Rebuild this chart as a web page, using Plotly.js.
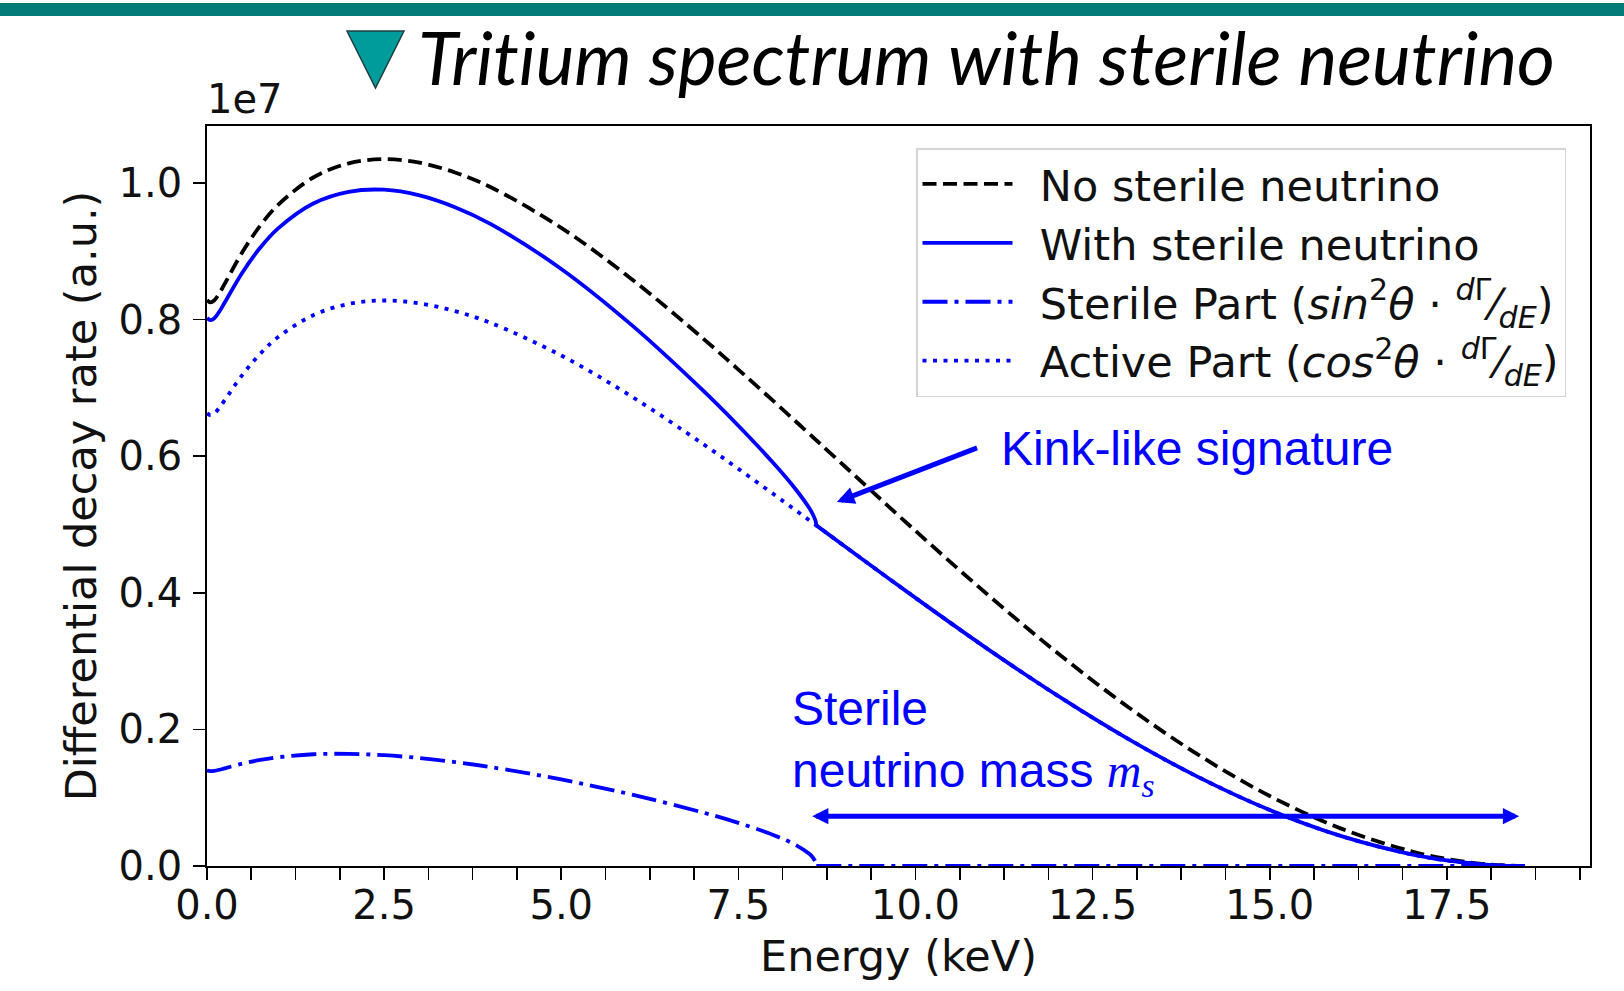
<!DOCTYPE html>
<html>
<head>
<meta charset="utf-8">
<script src="https://cdn.plot.ly/plotly-3.0.1.min.js"></script>
<style>html,body{margin:0;padding:0;background:#fff;}#chart{width:1624px;height:991px;}</style>
</head>
<body>
<div id="chart"></div>
<script>
// Energy grid (keV)
const energy = [0, 0.05, 0.1, 0.175, 0.25, 0.5, 0.75, 1, 1.5, 2, 2.5, 3, 3.5, 4, 5, 6, 7, 7.5, 8, 8.3, 8.5, 8.55, 8.59, 8.6, 9, 10, 11, 12, 13, 14, 15, 16, 17, 17.5, 18, 18.3, 18.6];
// Differential decay rate, in units of 1e7
const noSterile = [0.8284, 0.8253, 0.8279, 0.8387, 0.8525, 0.8990, 0.9374, 0.9676, 1.0081, 1.0288, 1.0350, 1.0297, 1.0155, 0.9941, 0.9344, 0.8587, 0.7725, 0.7269, 0.6802, 0.6519, 0.6329, 0.6281, 0.6243, 0.6234, 0.5853, 0.4907, 0.3989, 0.3123, 0.2328, 0.1623, 0.1025, 0.0551, 0.0214, 0.0103, 0.0031, 0.0008, 0];
const withSterile = [0.8024, 0.7992, 0.8016, 0.8119, 0.8250, 0.8691, 0.9052, 0.9333, 0.9701, 0.9872, 0.9902, 0.9819, 0.9646, 0.9402, 0.8742, 0.7915, 0.6963, 0.6446, 0.5893, 0.5527, 0.5241, 0.5150, 0.5050, 0.4987, 0.4682, 0.3926, 0.3191, 0.2498, 0.1862, 0.1298, 0.0820, 0.0441, 0.0171, 0.0082, 0.0025, 0.0006, 0];
const sterilePart = [0.1397, 0.1390, 0.1393, 0.1409, 0.1430, 0.1499, 0.1553, 0.1592, 0.1636, 0.1642, 0.1622, 0.1581, 0.1522, 0.1449, 0.1267, 0.1045, 0.0783, 0.0631, 0.0451, 0.0312, 0.0178, 0.0125, 0.0056, 0, 0, 0, 0, 0, 0, 0, 0, 0, 0, 0, 0, 0, 0];
const activePart = [0.6627, 0.6602, 0.6623, 0.6710, 0.6820, 0.7192, 0.7499, 0.7741, 0.8065, 0.8230, 0.8280, 0.8238, 0.8124, 0.7953, 0.7475, 0.6870, 0.6180, 0.5815, 0.5442, 0.5215, 0.5063, 0.5025, 0.4994, 0.4987, 0.4682, 0.3926, 0.3191, 0.2498, 0.1862, 0.1298, 0.0820, 0.0441, 0.0171, 0.0082, 0.0025, 0.0006, 0];
const kinkEnergy = 8.6;
// Tick labels
const xTickVals = [0, 2.5, 5, 7.5, 10, 12.5, 15, 17.5];
const xTickText = ['0.0', '2.5', '5.0', '7.5', '10.0', '12.5', '15.0', '17.5'];
const yTickVals = [0, 0.2, 0.4, 0.6, 0.8, 1.0];
const yTickText = ['0.0', '0.2', '0.4', '0.6', '0.8', '1.0'];
const GAP = '\u00a0\u2009';
const seriesNames = [
  GAP + 'No sterile neutrino',
  GAP + 'With sterile neutrino',
  GAP + 'Sterile Part (<i>sin</i><sup>2</sup><i>θ</i> · <sup><i>d</i>Γ</sup>⁄<sub><i>dE</i></sub>)',
  GAP + 'Active Part (<i>cos</i><sup>2</sup><i>θ</i> · <sup><i>d</i>Γ</sup>⁄<sub><i>dE</i></sub>)'
];
// annotation anchor points (data coordinates)
const kinkArrow = {head: [8.89, 0.533], tail: [10.89, 0.613]};
const kinkLabel = [11.18, 0.612];
const massArrow = {from: [8.52, 0.073], to: [18.52, 0.073]};
const massLabel = [8.23, 0.180];

const k = energy.indexOf(kinkEnergy);
const BLUE = '#0000ff';
const LW = 3.8;
const FONT = 'DejaVu Sans';

const traces = [
  {x: energy, y: activePart, mode: 'lines', name: seriesNames[3], legendrank: 4,
   line: {color: BLUE, width: LW, dash: '4px,6.5px', shape: 'spline'}},
  {x: energy, y: noSterile, mode: 'lines', name: seriesNames[0], legendrank: 1,
   line: {color: 'black', width: LW, dash: '14px,6.5px', shape: 'spline'}},
  {x: energy.slice(0, k + 1), y: withSterile.slice(0, k + 1), mode: 'lines', name: seriesNames[1], legendrank: 2,
   legendgroup: 'with', line: {color: BLUE, width: LW, shape: 'spline'}},
  {x: energy.slice(k), y: withSterile.slice(k), mode: 'lines', name: seriesNames[1], showlegend: false,
   legendgroup: 'with', line: {color: BLUE, width: LW, shape: 'spline'}},
  {x: energy.slice(0, k + 1), y: sterilePart.slice(0, k + 1), mode: 'lines', name: seriesNames[2], legendrank: 3,
   legendgroup: 'st', line: {color: BLUE, width: LW, dash: '25px,7px,4px,7px', shape: 'spline'}},
  {x: energy.slice(k), y: sterilePart.slice(k), mode: 'lines', name: seriesNames[2], showlegend: false,
   legendgroup: 'st', line: {color: BLUE, width: LW, dash: '25px,7px,4px,7px'}}
];

const L = 207, R = 34, T = 126, B = 125, W = 1624, H = 991;
const pw = W - L - R, ph = H - T - B;
const px = v => (v - L) / pw;          // pixel x -> paper
const py = v => (H - B - v) / ph;      // pixel y -> paper

const axisCommon = {
  showgrid: false, zeroline: false, showline: true, mirror: true,
  linecolor: 'black', linewidth: 1.8,
  ticks: 'outside', ticklen: 12, tickwidth: 1.6, tickcolor: 'black',
  tickfont: {family: FONT, size: 40, color: '#111'},
  fixedrange: true
};

const layout = {
  width: W, height: H,
  margin: {l: L, r: R, t: T, b: B, pad: 0},
  paper_bgcolor: 'white', plot_bgcolor: 'white',
  showlegend: true,
  xaxis: Object.assign({}, axisCommon, {
    range: [0, 19.52], tickmode: 'array', tickvals: xTickVals, ticktext: xTickText,
    ticklabelstandoff: -9,
    minor: {dtick: 0.625, tick0: 0, ticks: 'outside', ticklen: 12, tickwidth: 1.6, tickcolor: 'black', showgrid: false},
    title: {text: 'Energy (keV)', font: {family: FONT, size: 43, color: '#111'}, standoff: 14}
  }),
  yaxis: Object.assign({}, axisCommon, {
    range: [0, 1.0835], tickmode: 'array', tickvals: yTickVals, ticktext: yTickText,
    ticklabelstandoff: 3,
    title: {text: 'Differential decay rate (a.u.)', font: {family: FONT, size: 43, color: '#111'}, standoff: 8}
  }),
  legend: {
    x: px(1566), y: py(148), xanchor: 'right', yanchor: 'top',
    bgcolor: 'white', bordercolor: '#d4d4d4', borderwidth: 1.5,
    font: {family: FONT, size: 43, color: '#111'},
    itemwidth: 90, tracegroupgap: 0
  },
  shapes: [
    {type: 'rect', xref: 'paper', yref: 'paper', x0: px(0), x1: px(W), y0: py(3), y1: py(16),
     fillcolor: '#047b78', line: {width: 0}, layer: 'above'},
    {type: 'path', xref: 'paper', yref: 'paper',
     path: `M ${px(347)} ${py(31)} L ${px(404)} ${py(31)} L ${px(375.5)} ${py(88)} Z`,
     fillcolor: '#009b9b', line: {color: '#1f4040', width: 1.5}}
  ],
  annotations: [
    {xref: 'paper', yref: 'paper', x: px(416), y: py(57), xanchor: 'left', yanchor: 'middle', showarrow: false,
     text: '<i>Trit\u200Cium spectrum with sterile neutrino</i>', font: {family: 'Lato', size: 73, color: 'black'}},
    {xref: 'paper', yref: 'paper', x: px(205), y: py(99), xanchor: 'left', yanchor: 'middle', showarrow: false,
     text: '1e7', font: {family: FONT, size: 40, color: '#111'}},
    {xref: 'x', yref: 'y', x: kinkLabel[0], y: kinkLabel[1], xanchor: 'left', yanchor: 'middle', showarrow: false,
     text: 'Kink-like signature', font: {family: 'Liberation Sans', size: 48, color: BLUE}},
    {xref: 'x', yref: 'y', axref: 'x', ayref: 'y', x: kinkArrow.head[0], y: kinkArrow.head[1],
     ax: kinkArrow.tail[0], ay: kinkArrow.tail[1], text: '', showarrow: true,
     arrowhead: 2, arrowsize: 0.7, arrowwidth: 5, arrowcolor: BLUE, standoff: 0, startstandoff: 0},
    {xref: 'x', yref: 'y', x: massLabel[0], y: massLabel[1], xanchor: 'left', yanchor: 'middle', align: 'left', showarrow: false,
     text: 'Sterile<br>neutrino mass <span style="font-family:\'Liberation Serif\'"><i>m<sub>s</sub></i></span>',
     font: {family: 'Liberation Sans', size: 48, color: BLUE}},
    {xref: 'x', yref: 'y', axref: 'x', ayref: 'y', x: massArrow.to[0], y: massArrow.to[1],
     ax: massArrow.from[0], ay: massArrow.from[1], text: '', showarrow: true, arrowside: 'end+start',
     arrowhead: 2, startarrowhead: 2, arrowsize: 0.65, startarrowsize: 0.65, arrowwidth: 5, arrowcolor: BLUE,
     standoff: 0, startstandoff: 0}
  ]
};

Plotly.newPlot('chart', traces, layout, {displayModeBar: false, staticPlot: true});
</script>
</body>
</html>
